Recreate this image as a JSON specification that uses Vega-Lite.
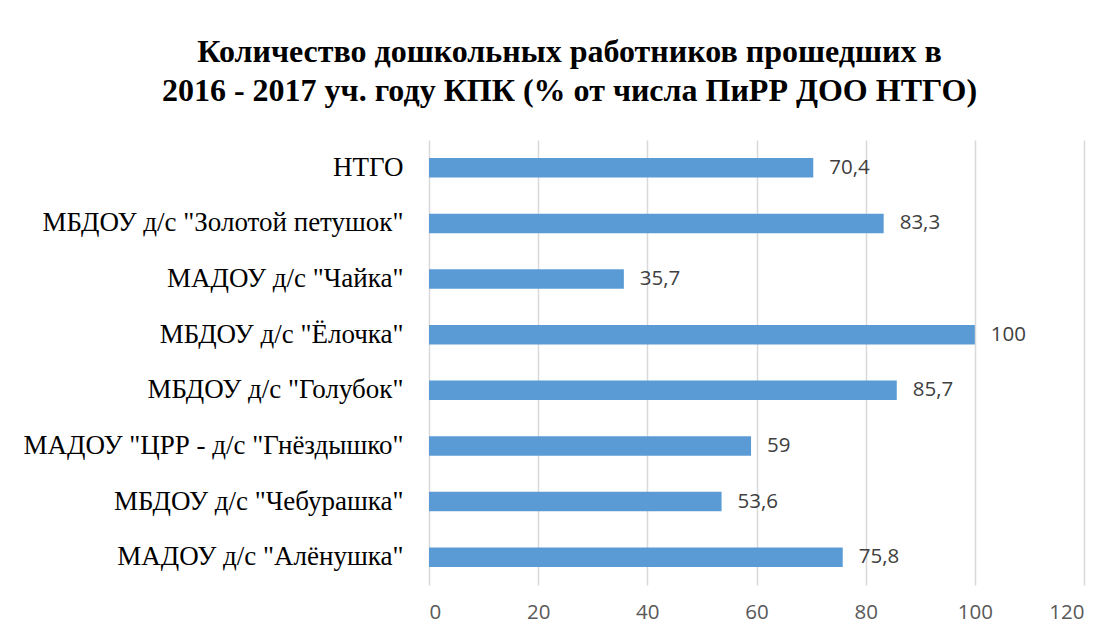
{
  "$schema": "https://vega.github.io/schema/vega-lite/v6.json",
  "autosize": "none",
  "width": 655,
  "height": 445,
  "padding": {"left": 429, "top": 140, "right": 35, "bottom": 54},
  "background": "white",
  "config": {
    "view": {"stroke": null},
    "locale": {"number": {"decimal": ",", "thousands": " ", "grouping": [3], "currency": ["", ""]}}
  },
  "title": {
    "text": ["Количество дошкольных работников прошедших в", "2016 - 2017 уч. году КПК (% от числа ПиРР ДОО НТГО)"],
    "font": "Liberation Serif",
    "fontSize": 32,
    "fontWeight": "bold",
    "color": "#000000",
    "anchor": "middle",
    "dx": -187,
    "offset": 32,
    "lineHeight": 39
  },
  "data": {
    "values": [
      {"name": "НТГО", "value": 70.4},
      {"name": "МБДОУ д/с \"Золотой петушок\"", "value": 83.3},
      {"name": "МАДОУ д/с \"Чайка\"", "value": 35.7},
      {"name": "МБДОУ д/с \"Ёлочка\"", "value": 100},
      {"name": "МБДОУ д/с \"Голубок\"", "value": 85.7},
      {"name": "МАДОУ \"ЦРР - д/с \"Гнёздышко\"", "value": 59},
      {"name": "МБДОУ д/с \"Чебурашка\"", "value": 53.6},
      {"name": "МАДОУ д/с \"Алёнушка\"", "value": 75.8}
    ]
  },
  "encoding": {
    "y": {
      "field": "name",
      "type": "nominal",
      "sort": null,
      "scale": {"paddingInner": 0.65, "paddingOuter": 0.325},
      "axis": {
        "title": null,
        "ticks": false,
        "domain": false,
        "labelFont": "Liberation Serif",
        "labelFontSize": 27,
        "labelColor": "#000000",
        "labelPadding": 26,
        "labelLimit": 500
      }
    },
    "x": {
      "field": "value",
      "type": "quantitative",
      "scale": {"domain": [0, 120], "nice": false},
      "axis": {
        "title": null,
        "values": [0, 20, 40, 60, 80, 100, 120],
        "ticks": false,
        "domain": false,
        "grid": true,
        "gridColor": "#d9d9d9",
        "gridWidth": 1.5,
        "labelFont": "Open Sans",
        "labelFontSize": 20.5,
        "labelColor": "#595959",
        "labelPadding": 17
      }
    }
  },
  "layer": [
    {"mark": {"type": "bar", "color": "#5b9bd5"}},
    {
      "mark": {"type": "text", "align": "left", "dx": 16, "font": "Open Sans", "fontSize": 20.5, "color": "#404040"},
      "encoding": {"text": {"field": "value", "type": "quantitative", "format": ".4~g"}}
    }
  ]
}
